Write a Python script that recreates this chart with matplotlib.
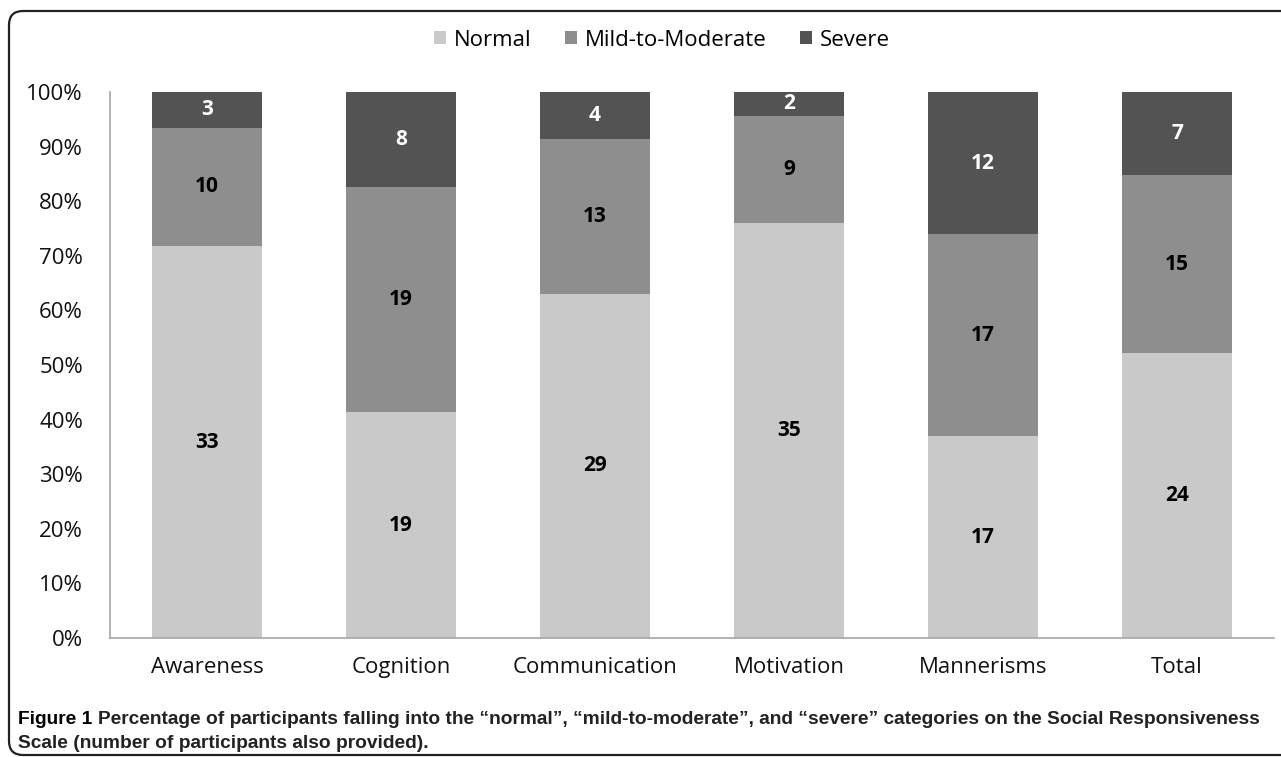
import matplotlib.pyplot as plt
from matplotlib.patches import FancyBboxPatch
import numpy as np

plt.rcParams['font.family'] = ['Open Sans', 'DejaVu Sans']

categories = ['Awareness', 'Cognition', 'Communication', 'Motivation', 'Mannerisms', 'Total']
normal = [33, 19, 29, 35, 17, 24]
mild = [10, 19, 13, 9, 17, 15]
severe = [3, 8, 4, 2, 12, 7]
series_names = ['Normal', 'Mild-to-Moderate', 'Severe']
colors = ['#c9c9c9', '#8e8e8e', '#535353']
label_colors = ['black', 'black', 'white']

counts = np.array([normal, mild, severe], dtype=float)
totals = counts.sum(axis=0)
pct = counts / totals

fig = plt.figure(figsize=(12.81, 7.57), dpi=100)

# frame around the whole figure
bg = fig.add_axes([0, 0, 1, 1], zorder=-1)
bg.set_xlim(0, 1281)
bg.set_ylim(757, 0)
bg.axis('off')
frame = FancyBboxPatch((9, 11), 1320, 744, boxstyle='round,pad=0,rounding_size=14',
                       fc='none', ec='#222222', lw=1.6, clip_on=False)
bg.add_patch(frame)

ax = fig.add_axes([110/1281, (757-638)/757, (1274-110)/1281, (638-92)/757])
x = np.arange(len(categories))
bottom = np.zeros(len(categories))
for i in range(3):
    ax.bar(x, pct[i], 0.57, bottom=bottom, color=colors[i], label=series_names[i])
    for j in range(len(categories)):
        ax.text(x[j], bottom[j] + pct[i][j] / 2, str(int(counts[i][j])), ha='center', va='center',
                fontsize=15, fontweight='bold', color=label_colors[i])
    bottom = bottom + pct[i]

ax.set_xlim(-0.5, 5.5)
ax.set_ylim(0, 1)
ax.set_yticks(np.arange(0, 1.01, 0.1))
ax.set_yticklabels([f'{int(round(v*100))}%' for v in np.arange(0, 1.01, 0.1)])
ax.set_xticks(x)
ax.set_xticklabels(categories)
ax.tick_params(axis='both', length=0, labelsize=16, colors='#111111')
ax.tick_params(axis='y', pad=19.5)
ax.tick_params(axis='x', pad=14)
for s in ['top', 'right']:
    ax.spines[s].set_visible(False)
for s in ['left', 'bottom']:
    ax.spines[s].set_color('#a6a6a6')
    ax.spines[s].set_linewidth(1.2)

fig.legend(loc='center', bbox_to_anchor=(662/1281, 1 - 40/757), ncol=3, frameon=False,
           fontsize=16, handlelength=0.55, handleheight=0.55, handletextpad=0.35, columnspacing=1.5)

cap_font = ['Liberation Sans', 'DejaVu Sans']
t1 = fig.text(18/1281, 1 - 719/757, 'Figure 1', family=cap_font, fontsize=13.8, fontweight='bold',
              va='center', color='black')
fig.canvas.draw()
bb = t1.get_window_extent(fig.canvas.get_renderer())
fig.text((bb.x1 + 6)/1281, 1 - 719/757, 'Percentage of participants falling into the \u201cnormal\u201d, \u201cmild-to-moderate\u201d, and \u201csevere\u201d categories on the Social Responsiveness',
         family=cap_font, fontsize=13.8, fontweight='bold', va='center', color='#222222')
fig.text(18/1281, 1 - 743/757, 'Scale (number of participants also provided).',
         family=cap_font, fontsize=13.8, fontweight='bold', va='center', color='#222222')

plt.savefig('out.png', dpi=100)
